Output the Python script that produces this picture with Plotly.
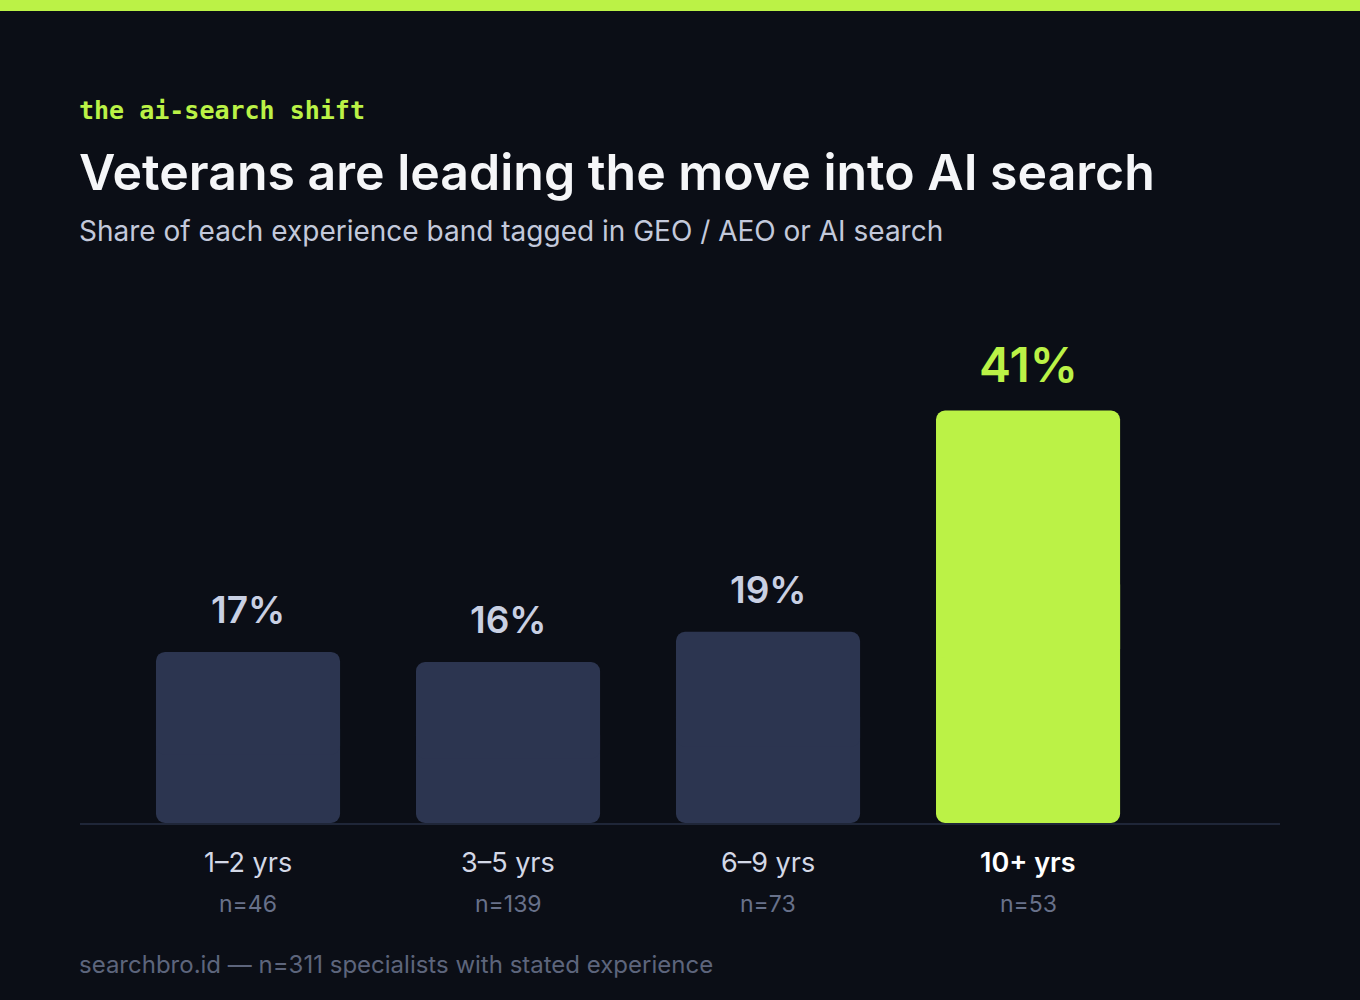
import plotly.graph_objects as go

# ---- data ----
bands = ["1–2 yrs", "3–5 yrs", "6–9 yrs", "10+ yrs"]
shares = [17, 16, 19, 41]
sample_sizes = [46, 139, 73, 53]
highlight = [False, False, False, True]

kicker = "the ai-search shift"
title = "Veterans are leading the move into AI search"
subtitle = "Share of each experience band tagged in GEO / AEO or AI search"
footer = "searchbro.id — n=311 specialists with stated experience"

# ---- style ----
BG = "#0b0e16"
LIME = "#bbf246"
DARK_BAR = "#2c3550"
AXIS = "#1f2638"
LABEL = "#c9d0e3"
MUTED = "#68718a"
FONT = "Inter"

W, H = 1360, 1000
ML, MR, MT, MB = 80, 80, 320, 177
PH = H - MT - MB


def py(pix):
    """convert a pixel y (from top) into paper coords"""
    return (H - MB - pix) / PH


x = list(range(len(bands)))
colors = [LIME if h else DARK_BAR for h in highlight]

fig = go.Figure()
# lower part (rounded at its bottom end) and upper part (rounded at its top end)
fig.add_trace(go.Bar(
    x=x, y=[-v * 0.6 for v in shares], base=[v * 0.6 for v in shares],
    marker=dict(color=colors, line=dict(width=0)), width=0.708,
    hoverinfo="skip", showlegend=False,
))
fig.add_trace(go.Bar(
    x=x, y=[v * 0.6 for v in shares], base=[v * 0.4 for v in shares],
    marker=dict(color=colors, line=dict(width=0)), width=0.708,
    hoverinfo="skip", showlegend=False,
))

annotations = []
for i, (b, v, n, h) in enumerate(zip(bands, shares, sample_sizes, highlight)):
    annotations.append(dict(
        x=i, y=v, xref="x", yref="y", text=f"{v}%", showarrow=False,
        yanchor="bottom", yshift=15 if h else 18,
        font=dict(family=FONT, size=48 if h else 37, weight=600,
                  color=LIME if h else LABEL),
    ))
    annotations.append(dict(
        x=i, y=py(862), xref="x", yref="paper", text=b, showarrow=False,
        yanchor="middle",
        font=dict(family=FONT, size=27, weight=600 if h else 400,
                  color="#ffffff" if h else "#d3d8e6"),
    ))
    annotations.append(dict(
        x=i, y=py(904), xref="x", yref="paper", text=f"n={n}", showarrow=False,
        yanchor="middle",
        font=dict(family=FONT, size=23, color=MUTED),
    ))

annotations += [
    dict(x=0, y=py(111), xref="paper", yref="paper", text=kicker, showarrow=False,
         xanchor="left", yanchor="middle", xshift=-3,
         font=dict(family="DejaVu Sans Mono", size=25, weight=600, color=LIME)),
    dict(x=0, y=py(172), xref="paper", yref="paper", text=title, showarrow=False,
         xanchor="left", yanchor="middle", xshift=-3,
         font=dict(family=FONT, size=50, weight=600, color="#f5f6f8")),
    dict(x=0, y=py(231), xref="paper", yref="paper", text=subtitle, showarrow=False,
         xanchor="left", yanchor="middle", xshift=-3,
         font=dict(family=FONT, size=28, color="#c3c9db")),
    dict(x=0, y=py(964), xref="paper", yref="paper", text=footer, showarrow=False,
         xanchor="left", yanchor="middle", xshift=-3,
         font=dict(family=FONT, size=24, color="#5d657c")),
]

fig.update_layout(
    width=W, height=H,
    margin=dict(l=ML, r=MR, t=MT, b=MB),
    paper_bgcolor=BG, plot_bgcolor=BG,
    barmode="overlay", barcornerradius=9,
    annotations=annotations,
    shapes=[dict(type="rect", xref="paper", yref="paper",
                 x0=-ML / (W - ML - MR), x1=1 + MR / (W - ML - MR),
                 y0=py(11), y1=py(0), fillcolor=LIME, line=dict(width=0),
                 layer="above")],
    showlegend=False,
)
fig.update_xaxes(range=[-0.6462, 3.969], showgrid=False, zeroline=False,
                 showticklabels=False, showline=True, linecolor=AXIS,
                 linewidth=2, layer="below traces", fixedrange=True)
fig.update_yaxes(range=[0, 50], showgrid=False, zeroline=False,
                 showticklabels=False, showline=False, fixedrange=True)

fig.write_html("out.html")
